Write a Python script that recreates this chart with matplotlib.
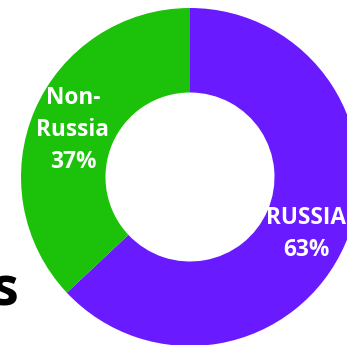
import matplotlib
matplotlib.use('Agg')
import matplotlib.pyplot as plt

# share of the total, in percent
labels = ['RUSSIA', 'Non-\nRussia']
shares = [63, 37]
colors = ['#6a1aff', '#1cc10a']

plt.rcParams['font.family'] = ['Open Sans', 'DejaVu Sans']

fig = plt.figure(figsize=(3.47, 3.45), dpi=100)
ax = fig.add_axes([0, 0, 1, 1])

# work in pixel units: the ring is bigger than the canvas and gets clipped
cx, cy, r = 190, 168, 169
ax.pie(shares, colors=colors, startangle=90, counterclock=False,
       center=(cx, cy), radius=r,
       wedgeprops=dict(width=r * 0.5, linewidth=0))
ax.set_xlim(0, 347)
ax.set_ylim(0, 345)
ax.set_aspect('auto')
ax.axis('off')

ax.text(306, 111, '%s\n%d%%' % (labels[0], shares[0]), color='white',
        fontsize=16.3, fontweight='bold', ha='center', va='center',
        linespacing=1.45)
ax.text(73, 215, '%s\n%d%%' % (labels[1], shares[1]), color='white',
        fontsize=16.3, fontweight='bold', ha='center', va='center',
        linespacing=1.45)

# tail of the title running in from the left
ax.text(18.5, 39, 's', color='black', fontsize=39, fontweight='bold',
        ha='right', va='baseline')

fig.savefig('out.png', dpi=100)
